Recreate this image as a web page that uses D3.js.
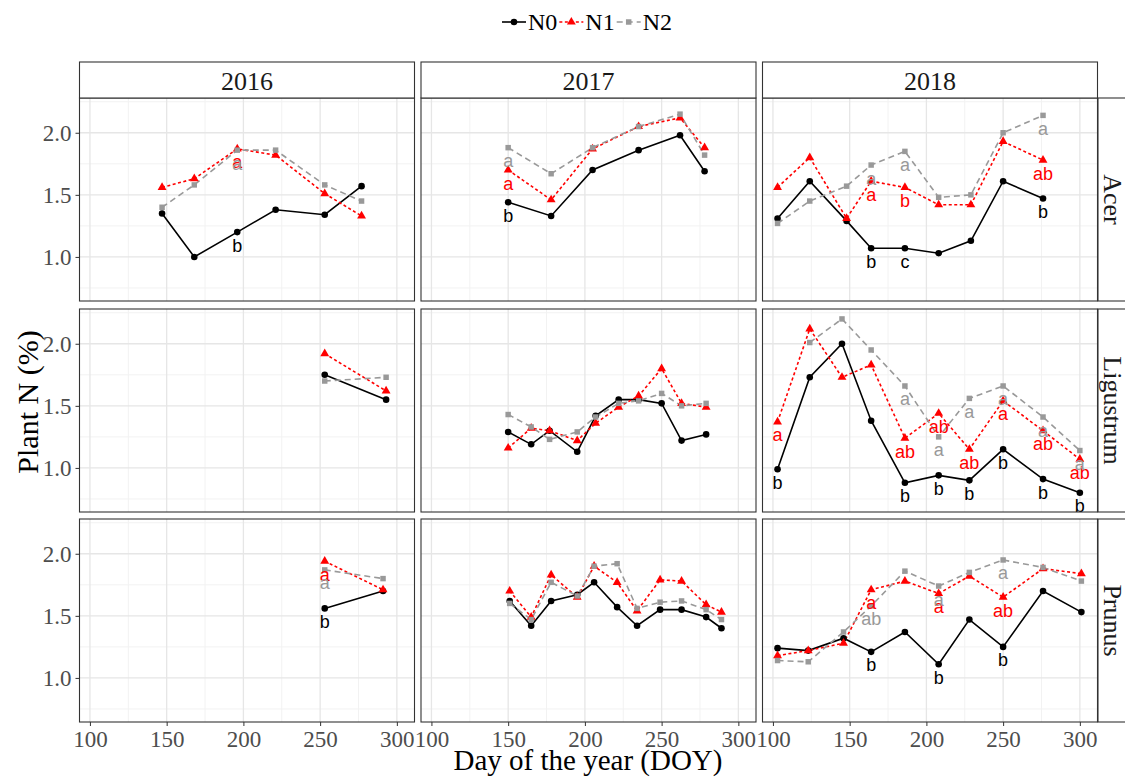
<!DOCTYPE html>
<html>
<head>
<meta charset="utf-8">
<script src="https://cdn.jsdelivr.net/npm/d3@7"></script>
<style>
  body { margin: 0; background: #fff; }
  svg { display: block; }
</style>
</head>
<body>
<div id="chart"></div>
<script>
var W = 1125, H = 780;

var years = ["2016", "2017", "2018"];
var species = ["Acer", "Ligustrum", "Prunus"];
var series = ["N0", "N1", "N2"];
var xTicks = [100, 150, 200, 250, 300];
var yTicks = [1.0, 1.5, 2.0];

// rows: [DOY, N0, N1, N2]
var acer2016 = [[147,1.35,1.56,1.40],[168,1.00,1.63,1.58],[196,1.20,1.87,1.86],[221,1.38,1.82,1.86],[253,1.34,1.51,1.58],[277,1.57,1.33,1.45]];
var acer2017 = [[150,1.44,1.70,1.88],[178,1.33,1.46,1.67],[205,1.70,1.87,1.88],[235,1.86,2.05,2.05],[262,1.98,2.12,2.15],[278,1.69,1.88,1.82]];
var acer2018 = [[103,1.31,1.56,1.27],[124,1.61,1.80,1.45],[148,1.29,1.31,1.57],[164,1.07,1.61,1.74],[186,1.07,1.56,1.85],[208,1.03,1.42,1.48],[229,1.13,1.42,1.50],[250,1.61,1.93,2.00],[276,1.47,1.78,2.14]];
var ligu2016 = [[253,1.75,1.92,1.70],[293,1.55,1.62,1.73]];
var ligu2017 = [[150,1.29,1.16,1.43],[165,1.19,1.32,1.33],[177,1.30,1.30,1.23],[195,1.13,1.22,1.29],[207,1.42,1.36,1.41],[222,1.55,1.49,1.52],[235,1.55,1.58,1.54],[250,1.52,1.80,1.60],[263,1.22,1.52,1.50],[279,1.27,1.49,1.52]];
var ligu2018 = [[103,0.99,1.37,null],[124,1.73,2.12,2.01],[145,2.00,1.73,2.20],[164,1.38,1.83,1.95],[186,0.88,1.24,1.66],[208,0.94,1.44,1.25],[228,0.90,1.15,1.56],[250,1.15,1.54,1.66],[276,0.91,1.30,1.41],[300,0.80,1.07,1.14]];
var prun2016 = [[253,1.56,1.94,1.87],[291,1.70,1.71,1.80]];
var prun2017 = [[151,1.62,1.70,1.60],[165,1.42,1.49,1.47],[178,1.62,1.83,1.77],[195,1.67,1.65,1.66],[206,1.77,1.90,1.90],[221,1.57,1.77,1.92],[234,1.42,1.54,1.56],[249,1.55,1.79,1.61],[263,1.55,1.78,1.62],[279,1.49,1.59,1.55],[289,1.40,1.53,1.47]];
var prun2018 = [[103,1.24,1.18,1.14],[123,1.22,1.22,1.13],[146,1.32,1.28,1.37],[164,1.21,1.71,1.58],[186,1.37,1.78,1.86],[208,1.11,1.68,1.74],[228,1.47,1.82,1.85],[250,1.25,1.65,1.95],[276,1.70,1.88,1.89],[301,1.53,1.84,1.78]];

var panelData = {
  "Acer|2016": acer2016, "Acer|2017": acer2017, "Acer|2018": acer2018,
  "Ligustrum|2016": ligu2016, "Ligustrum|2017": ligu2017, "Ligustrum|2018": ligu2018,
  "Prunus|2016": prun2016, "Prunus|2017": prun2017, "Prunus|2018": prun2018
};

// significance letters: [species, year, series, DOY, text]
var letters = [
  ["Acer","2016","N1",196,"a"],["Acer","2016","N2",196,"a"],["Acer","2016","N0",196,"b"],
  ["Acer","2017","N2",150,"a"],["Acer","2017","N1",150,"a"],["Acer","2017","N0",150,"b"],
  ["Acer","2018","N0",164,"b"],["Acer","2018","N0",186,"c"],["Acer","2018","N0",276,"b"],
  ["Acer","2018","N1",164,"a"],["Acer","2018","N1",186,"b"],["Acer","2018","N1",276,"ab"],
  ["Acer","2018","N2",164,"a"],["Acer","2018","N2",186,"a"],["Acer","2018","N2",276,"a"],
  ["Ligustrum","2018","N0",103,"b"],["Ligustrum","2018","N0",186,"b"],["Ligustrum","2018","N0",208,"b"],
  ["Ligustrum","2018","N0",228,"b"],["Ligustrum","2018","N0",250,"b"],["Ligustrum","2018","N0",276,"b"],
  ["Ligustrum","2018","N0",300,"b"],
  ["Ligustrum","2018","N1",103,"a"],["Ligustrum","2018","N1",186,"ab"],["Ligustrum","2018","N1",208,"ab"],
  ["Ligustrum","2018","N1",228,"ab"],["Ligustrum","2018","N1",250,"a"],["Ligustrum","2018","N1",276,"ab"],
  ["Ligustrum","2018","N1",300,"ab"],
  ["Ligustrum","2018","N2",186,"a"],["Ligustrum","2018","N2",208,"a"],["Ligustrum","2018","N2",228,"a"],
  ["Ligustrum","2018","N2",250,"a"],["Ligustrum","2018","N2",276,"a"],["Ligustrum","2018","N2",300,"a"],
  ["Prunus","2016","N1",253,"a"],["Prunus","2016","N2",253,"a"],["Prunus","2016","N0",253,"b"],
  ["Prunus","2018","N0",164,"b"],["Prunus","2018","N0",208,"b"],["Prunus","2018","N0",250,"b"],
  ["Prunus","2018","N1",164,"a"],["Prunus","2018","N1",208,"a"],["Prunus","2018","N1",250,"ab"],
  ["Prunus","2018","N2",164,"ab"],["Prunus","2018","N2",208,"a"],["Prunus","2018","N2",250,"a"]
];

var colors = { N0: "#000000", N1: "#ff0000", N2: "#999999" };
var dashes = { N0: null, N1: "3,2.5", N2: "6,4" };
var serif = "'Liberation Serif', 'Times New Roman', serif";
var sans = "'Liberation Sans', Arial, sans-serif";

//layout
var colLeft = [79.5, 421, 762.5];
var rowTop = [98, 309, 519];
var PW = 335, PH = 203;
var stripTop = 62, stripH = 36;
var rightStrip = 1098;

var xScale = d3.scaleLinear().domain([93.2, 311.5]).range([0, PW]);
var yScale = d3.scaleLinear().domain([0.645, 2.28]).range([PH, 0]);

var svg = d3.select("#chart").append("svg")
  .attr("width", W).attr("height", H);

svg.append("rect").attr("width", W).attr("height", H).attr("fill", "#fff");

var symbolFor = {
  N0: d3.symbol().type(d3.symbolCircle).size(34),
  N1: d3.symbol().type(d3.symbolTriangle).size(34),
  N2: d3.symbol().type(d3.symbolSquare).size(30)
};

species.forEach(function(sp, r) {
  years.forEach(function(yr, c) {
    var rows = panelData[sp + "|" + yr];
    var g = svg.append("g")
      .attr("transform", "translate(" + colLeft[c] + "," + rowTop[r] + ")");

    // grid
    [125, 175, 225, 275].forEach(function(v) {
      g.append("line").attr("x1", xScale(v)).attr("x2", xScale(v))
        .attr("y1", 0).attr("y2", PH).attr("stroke", "#f2f2f2").attr("stroke-width", 1);
    });
    [0.75, 1.25, 1.75, 2.25].forEach(function(v) {
      g.append("line").attr("y1", yScale(v)).attr("y2", yScale(v))
        .attr("x1", 0).attr("x2", PW).attr("stroke", "#f2f2f2").attr("stroke-width", 1);
    });
    xTicks.forEach(function(v) {
      g.append("line").attr("x1", xScale(v)).attr("x2", xScale(v))
        .attr("y1", 0).attr("y2", PH).attr("stroke", "#e6e6e6").attr("stroke-width", 1.3);
    });
    yTicks.forEach(function(v) {
      g.append("line").attr("y1", yScale(v)).attr("y2", yScale(v))
        .attr("x1", 0).attr("x2", PW).attr("stroke", "#e6e6e6").attr("stroke-width", 1.3);
    });

    // lines and points
    series.forEach(function(s, k) {
      var line = d3.line()
        .defined(function(d) { return d[k + 1] != null; })
        .x(function(d) { return xScale(d[0]); })
        .y(function(d) { return yScale(d[k + 1]); });
      g.append("path").datum(rows)
        .attr("d", line)
        .attr("fill", "none")
        .attr("stroke", colors[s])
        .attr("stroke-width", 1.6)
        .attr("stroke-dasharray", dashes[s]);
    });
    series.forEach(function(s, k) {
      g.selectAll(".pt" + s)
        .data(rows.filter(function(d) { return d[k + 1] != null; }))
        .enter().append("path")
        .attr("d", symbolFor[s])
        .attr("transform", function(d) {
          return "translate(" + xScale(d[0]) + "," + yScale(d[k + 1]) + ")";
        })
        .attr("fill", colors[s]);
    });

    // letters
    letters.filter(function(l) { return l[0] == sp && l[1] == yr; })
      .forEach(function(l) {
        var k = series.indexOf(l[2]);
        var row = rows.find(function(d) { return d[0] == l[3]; });
        g.append("text")
          .text(l[4])
          .attr("x", xScale(l[3]))
          .attr("y", yScale(row[k + 1]) + 19.5)
          .attr("text-anchor", "middle")
          .attr("font-family", sans)
          .attr("font-size", "18px")
          .attr("fill", colors[l[2]]);
      });

    // border
    g.append("rect").attr("width", PW).attr("height", PH)
      .attr("fill", "none").attr("stroke", "#333").attr("stroke-width", 1.1);

    // axes on outer panels
    if (r == species.length - 1) {
      var xAxis = d3.axisBottom(xScale).tickValues(xTicks).tickSize(4).tickPadding(3)
        .tickFormat(d3.format("d"));
      var ax = g.append("g").attr("transform", "translate(0," + PH + ")").call(xAxis);
      ax.select(".domain").remove();
      ax.selectAll("line").attr("stroke", "#333");
      ax.selectAll("text").attr("font-family", serif).attr("font-size", "23px")
        .attr("fill", "#4d4d4d").attr("dy", "0.78em");
    }
    if (c == 0) {
      var yAxis = d3.axisLeft(yScale).tickValues(yTicks).tickSize(4).tickPadding(4)
        .tickFormat(d3.format(".1f"));
      var ay = g.append("g").call(yAxis);
      ay.select(".domain").remove();
      ay.selectAll("line").attr("stroke", "#333");
      ay.selectAll("text").attr("font-family", serif).attr("font-size", "23px")
        .attr("fill", "#4d4d4d");
    }
  });
});

// top strips
years.forEach(function(yr, c) {
  svg.append("rect").attr("x", colLeft[c]).attr("y", stripTop)
    .attr("width", PW).attr("height", stripH)
    .attr("fill", "#fff").attr("stroke", "#333").attr("stroke-width", 1.1);
  svg.append("text").text(yr)
    .attr("x", colLeft[c] + PW / 2).attr("y", stripTop + 28)
    .attr("text-anchor", "middle")
    .attr("font-family", serif).attr("font-size", "26px").attr("fill", "#1a1a1a");
});

// right strips
species.forEach(function(sp, r) {
  svg.append("rect").attr("x", rightStrip).attr("y", rowTop[r])
    .attr("width", 40).attr("height", PH)
    .attr("fill", "#fff").attr("stroke", "#333").attr("stroke-width", 1.1);
  svg.append("text").text(sp)
    .attr("transform", "translate(" + (rightStrip + 6) + "," + (rowTop[r] + PH / 2) + ") rotate(90)")
    .attr("text-anchor", "middle")
    .attr("font-family", serif).attr("font-size", "26px").attr("fill", "#1a1a1a");
});

// axis titles
svg.append("text").text("Day of the year (DOY)")
  .attr("x", 588).attr("y", 770)
  .attr("text-anchor", "middle")
  .attr("font-family", serif).attr("font-size", "29px").attr("fill", "#000");
svg.append("text").text("Plant N (%)")
  .attr("transform", "translate(38,402) rotate(-90)")
  .attr("text-anchor", "middle")
  .attr("font-family", serif).attr("font-size", "30px").attr("fill", "#000");

// legend
var lx = 502, ly = 22;
series.forEach(function(s) {
  svg.append("line").attr("x1", lx).attr("x2", lx + 24).attr("y1", ly).attr("y2", ly)
    .attr("stroke", colors[s]).attr("stroke-width", 1.6).attr("stroke-dasharray", dashes[s]);
  svg.append("path").attr("d", symbolFor[s])
    .attr("transform", "translate(" + (lx + 12) + "," + ly + ")")
    .attr("fill", colors[s]);
  var t = svg.append("text").text(s)
    .attr("x", lx + 26).attr("y", ly + 8)
    .attr("font-family", serif).attr("font-size", "24px").attr("fill", "#000");
  lx += 26 + t.node().getComputedTextLength() + 2;
});
</script>
</body>
</html>
